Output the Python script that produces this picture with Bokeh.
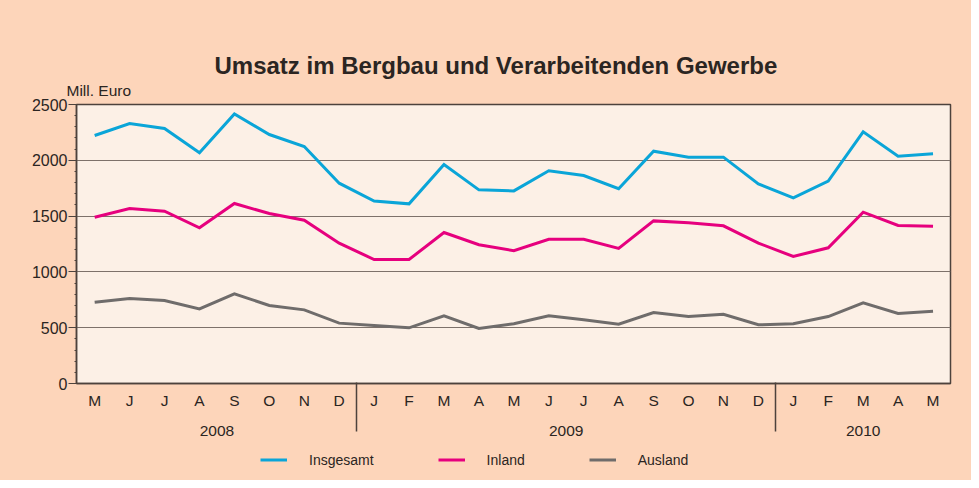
from bokeh.plotting import figure
from bokeh.layouts import column
from bokeh.models import (Range1d, FixedTicker, Legend, LegendItem, LinearAxis, Title)
from bokeh.embed import file_html
from bokeh.resources import INLINE

months = ["M", "J", "J", "A", "S", "O", "N", "D",
          "J", "F", "M", "A", "M", "J", "J", "A", "S", "O", "N", "D",
          "J", "F", "M", "A", "M"]
years = [2008] * 8 + [2009] * 12 + [2010] * 5
insgesamt = [2222, 2330, 2285, 2067, 2416, 2231, 2124, 1795,
             1635, 1610, 1962, 1735, 1726, 1906, 1864, 1745, 2082, 2028, 2028, 1789,
             1664, 1813, 2255, 2037, 2058]
inland = [1490, 1568, 1544, 1395, 1613, 1523, 1463, 1257,
          1111, 1111, 1353, 1243, 1190, 1293, 1293, 1210, 1457, 1440, 1413, 1258,
          1138, 1216, 1535, 1416, 1410]
ausland = [729, 762, 744, 669, 804, 699, 660, 541,
           520, 499, 607, 493, 535, 607, 571, 532, 636, 600, 621, 526,
           535, 600, 723, 627, 648]
y_ticks = [0, 500, 1000, 1500, 2000, 2500]
series_names = ["Insgesamt", "Inland", "Ausland"]
series_colors = ["#0AA5D8", "#E6007E", "#6F6C6B"]
title_text = "Umsatz im Bergbau und Verarbeitenden Gewerbe"
unit_text = "Mill. Euro"

TXT = "#2b2522"
FONT = "Liberation Sans"
OUTER = "#FDD5BA"
INNER = "#FCF0E6"
DARK = "#4d423c"

x = list(range(len(months)))
series = [insgesamt, inland, ausland]

p = figure(width=971, height=445, output_backend="svg", toolbar_location=None,
           title_location=None,
           x_range=Range1d(-0.52, 24.5), y_range=Range1d(0, 2500),
           min_border_left=76, min_border_right=21, min_border_top=104,
           min_border_bottom=62)
p.background_fill_color = INNER
p.border_fill_color = OUTER
p.outline_line_color = DARK
p.outline_line_width = 1.5

# grid
p.xgrid.visible = False
p.ygrid.ticker = FixedTicker(ticks=y_ticks[1:-1])
p.ygrid.grid_line_color = "#7d716a"
p.ygrid.grid_line_width = 1

# y axis
ya = p.yaxis[0]
ya.ticker = FixedTicker(ticks=y_ticks, minor_ticks=list(range(0, 2501, 100)))
ya.axis_line_color = DARK
ya.axis_line_width = 1.5
ya.major_tick_line_color = DARK
ya.major_tick_out = 8
ya.major_tick_in = 0
ya.minor_tick_line_color = DARK
ya.minor_tick_out = 2
ya.minor_tick_in = 0
ya.major_label_standoff = 1
ya.major_label_text_font = FONT
ya.major_label_text_font_size = "16px"
ya.major_label_text_color = TXT

# x axis: month labels + year separators (long minor ticks)
seps = [i - 0.5 for i in range(1, len(years)) if years[i] != years[i - 1]]
xa = p.xaxis[0]
xa.ticker = FixedTicker(ticks=x, minor_ticks=seps)
xa.major_label_overrides = {i: m for i, m in zip(x, months)}
xa.axis_line_color = DARK
xa.axis_line_width = 1.5
xa.major_tick_line_color = None
xa.major_tick_out = 0
xa.major_tick_in = 0
xa.minor_tick_line_color = DARK
xa.minor_tick_line_width = 1.5
xa.minor_tick_out = 48
xa.minor_tick_in = 1
xa.major_label_standoff = -40
xa.major_label_text_font = FONT
xa.major_label_text_font_size = "15.5px"
xa.major_label_text_color = TXT

# year axis
uy = sorted(set(years))
yx = [sum(i for i, yy in enumerate(years) if yy == u) / years.count(u) for u in uy]
ya2 = LinearAxis(ticker=FixedTicker(ticks=yx),
                 major_label_overrides={v: str(u) for v, u in zip(yx, uy)},
                 axis_line_color=None, major_tick_line_color=None,
                 minor_tick_line_color=None, major_tick_out=0, major_tick_in=0,
                 minor_tick_out=0, minor_tick_in=0,
                 major_label_standoff=14, major_label_text_font=FONT,
                 major_label_text_font_size="15.5px", major_label_text_color=TXT)
p.add_layout(ya2, "below")

# lines
for vals, col in zip(series, series_colors):
    p.line(x, vals, line_color=col, line_width=3, line_join="miter")

# unit label and title above
p.add_layout(Title(text=unit_text, align="left", offset=-10, standoff=11,
                   text_font=FONT, text_font_size="15.5px", text_font_style="normal",
                   text_color=TXT), "above")
p.add_layout(Title(text=title_text, align="left", offset=138, standoff=-9,
                   text_font=FONT, text_font_size="24px", text_font_style="bold",
                   text_color=TXT), "above")

# legend strip (frame is aligned with the main plot's frame by the layout)
lg = figure(width=971, height=35, output_backend="svg", toolbar_location=None,
            title_location=None, x_range=Range1d(-0.52, 24.5), y_range=Range1d(0, 1),
            x_axis_location=None, y_axis_location=None,
            min_border_left=0, min_border_right=0, min_border_top=0, min_border_bottom=0)
lg.background_fill_alpha = 0
lg.border_fill_alpha = 0
lg.outline_line_color = None
lg.xgrid.visible = False
lg.ygrid.visible = False
items = []
for n, vals, col in zip(series_names, series, series_colors):
    r = lg.line(x, vals, line_color=col, line_width=3)
    items.append(LegendItem(label=n, renderers=[r]))
legend = Legend(items=items, location=(184, 12), orientation="horizontal",
                glyph_width=27, glyph_height=17, label_height=17, label_standoff=22,
                spacing=64, padding=0, margin=0, background_fill_alpha=0,
                border_line_color=None, label_text_font=FONT,
                label_text_font_size="14px", label_text_color=TXT)
lg.add_layout(legend)

layout = column(p, lg, spacing=0, styles={"background-color": OUTER})
open("out.html", "w").write(file_html(layout, INLINE))
